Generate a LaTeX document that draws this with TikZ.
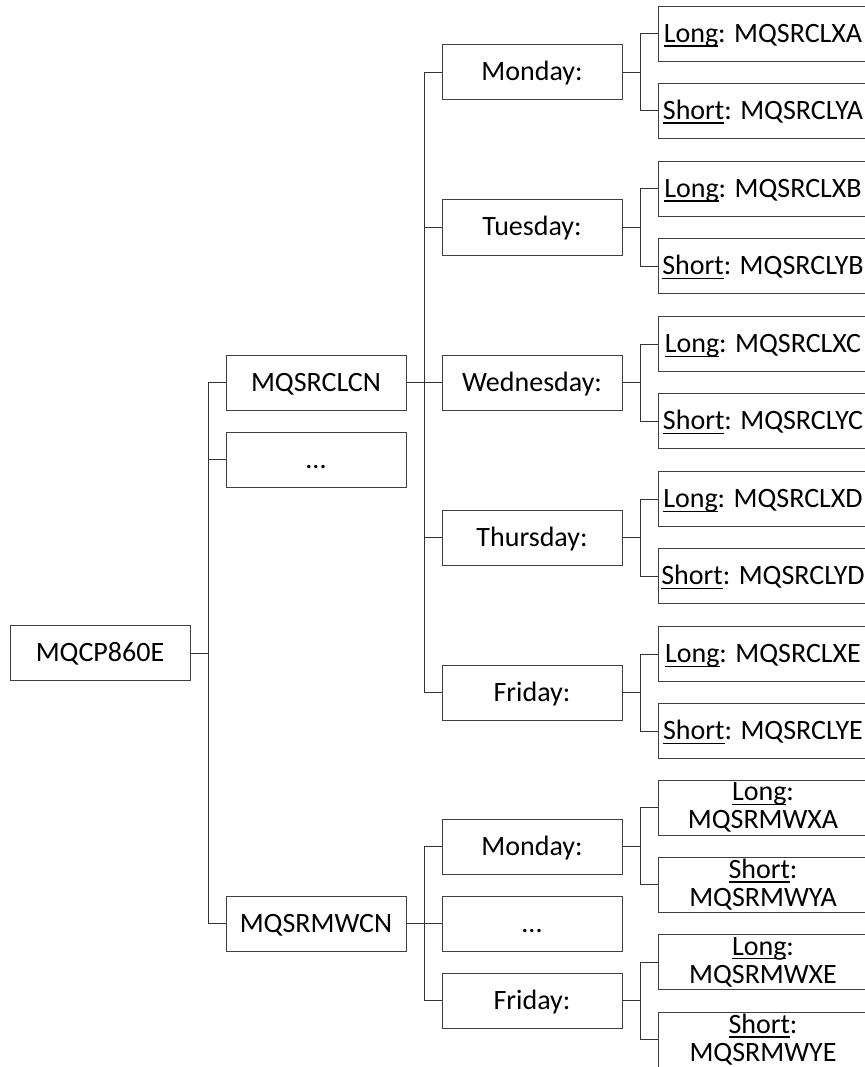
\documentclass[tikz,border=0pt]{standalone}
\usepackage{fontspec}
\setmainfont{Carlito}
\newcommand\myul[1]{\setbox0\hbox{#1}\rlap{\rule[-4.3pt]{\wd0}{1.3pt}}\box0}
\begin{document}
\begin{tikzpicture}[x=1pt,y=-1pt,
  base/.style={draw=black!75, line width=1pt, minimum width=180pt, minimum height=55pt,
    inner sep=0pt, font=\fontsize{28}{28}\selectfont},
  box/.style={base, text height=22pt, text depth=5pt},
  leaf/.style={box, minimum width=210pt},
  leaftwo/.style={base, minimum width=210pt, align=center},
  conn/.style={draw=black!80, line width=1pt}]
\useasboundingbox (0,0) rectangle (864,1067);

% root and level 1
\node[box] (root) at (100,653) {MQCP860E};
\node[box] (a) at (316,382.5) {MQSRCLCN};
\node[box] (b) at (316,459.5) {...};
\node[box] (c) at (316,923.5) {MQSRMWCN};
\foreach \n in {a,b,c} \draw[conn] (root.east) -- ++(18,0) |- (\n.west);

% first branch: days and leaves
\foreach \d/\t/\l [count=\k from 0] in {a1/Monday:/A, a2/Tuesday:/B, a3/Wednesday:/C, a4/Thursday:/D, a5/Friday:/E}{
  \pgfmathsetmacro\yy{72.5+155*\k}
  \node[box] (\d) at (532,\yy) {\t};
  \draw[conn] (a.east) -- ++(18,0) |- (\d.west);
  \node[leaf] (\d L) at (763,\yy-38.5) {\myul{Long}: MQSRCLX\l};
  \node[leaf] (\d S) at (763,\yy+38.5) {\myul{Short}: MQSRCLY\l};
  \draw[conn] (\d.east) -- ++(18,0) |- (\d L.west);
  \draw[conn] (\d.east) -- ++(18,0) |- (\d S.west);
}

% second branch
\node[box] (c1) at (532,846.5) {Monday:};
\node[box] (c2) at (532,923.5) {...};
\node[box] (c3) at (532,1000.5) {Friday:};
\foreach \n in {c1,c2,c3} \draw[conn] (c.east) -- ++(18,0) |- (\n.west);

\node[leaftwo] (c1L) at (763,807.5) {\myul{Long}:\\MQSRMWXA};
\node[leaftwo] (c1S) at (763,884.5) {\myul{Short}:\\MQSRMWYA};
\node[leaftwo] (c3L) at (763,962) {\myul{Long}:\\MQSRMWXE};
\node[leaftwo] (c3S) at (763,1039.5) {\myul{Short}:\\MQSRMWYE};
\draw[conn] (c1.east) -- ++(18,0) |- (c1L.west);
\draw[conn] (c1.east) -- ++(18,0) |- (c1S.west);
\draw[conn] (c3.east) -- ++(18,0) |- (c3L.west);
\draw[conn] (c3.east) -- ++(18,0) |- (c3S.west);
\end{tikzpicture}
\end{document}
